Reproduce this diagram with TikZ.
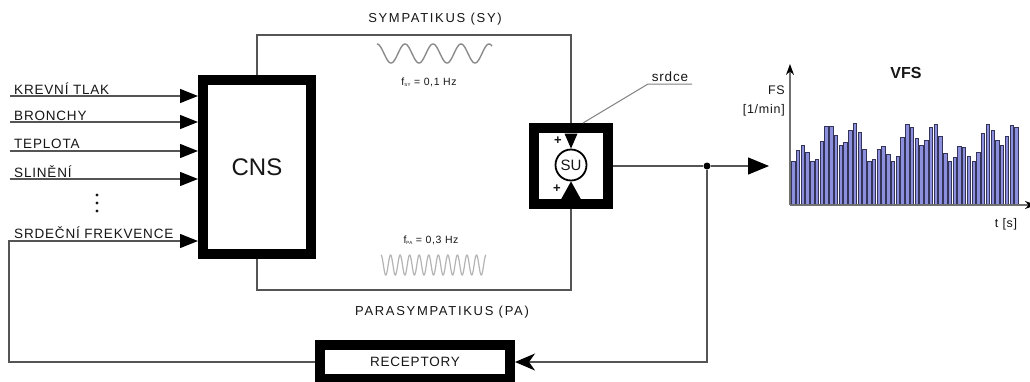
\documentclass[tikz,border=0pt]{standalone}
\usepackage{fontspec}
\setmainfont{Liberation Sans}
\newfontfamily\lblfont[LetterSpace=6]{Liberation Sans}
\newfontfamily\ttlfont[LetterSpace=13]{Liberation Sans}
\usetikzlibrary{arrows.meta}
\definecolor{ln}{HTML}{555555}
\definecolor{txt}{HTML}{161616}
\definecolor{barfill}{HTML}{8C8FDC}
\definecolor{baredge}{HTML}{34345A}
\definecolor{waveA}{HTML}{8A8A8A}
\definecolor{waveB}{HTML}{B4B4B4}
\definecolor{axisc}{HTML}{707070}
\definecolor{leadc}{HTML}{808080}
\begin{document}
\begin{tikzpicture}[x=1pt,y=-1pt,
  thickbox/.style={draw=black,line width=10pt,inner sep=0pt,fill=white},
  wire/.style={draw=ln,line width=1.3pt},
  inarrow/.style={wire,-{Triangle[length=18pt,width=14pt,color=black]}},
  lbl/.style={font=\lblfont\fontsize{13.5}{16}\selectfont,text=txt,inner sep=0pt},
  ttl/.style={font=\ttlfont\fontsize{13}{15}\selectfont,text=txt,inner sep=0pt},
  small/.style={font=\lblfont\fontsize{10.5}{12}\selectfont,text=txt,inner sep=0pt},
  bar/.style={fill=barfill,draw=baredge,line width=0.7pt}]
\useasboundingbox (0,0) rectangle (1030,381);
\fill[white] (0,0) rectangle (1030,381);

% ---------- boxes ----------
\node[thickbox,minimum width=108pt,minimum height=174pt,
      font=\fontsize{24}{28}\selectfont,text=txt] (cns) at (257,167) {CNS};
\node[thickbox,minimum width=74pt,minimum height=76pt] (subox) at (571,166) {};
\node[thickbox,minimum width=190pt,minimum height=34pt,lbl] (recep) at (415,362) {RECEPTORY};

% ---------- SY / PA loop ----------
\coordinate (syR) at (571,35);
\coordinate (paR) at (571,290);
\draw[wire] (cns.north) |- (syR) -- (subox.north);
\draw[wire] (cns.south) |- (paR) -- (subox.south);

% ---------- summation unit ----------
\node[circle,draw=black,line width=1.8pt,minimum size=31pt,inner sep=0pt,fill=white,
      font=\fontsize{15}{17}\selectfont,text=txt] (su) at (571,165) {SU};
\fill[black] (su.north) -- ++(-6.5,-15) -- ++(13,0) -- cycle;
\fill[black] (su.south) -- ++(-10,18) -- ++(20,0) -- cycle;
\node[font=\bfseries\fontsize{13}{14}\selectfont,text=txt,inner sep=0pt] (plus1) at (558,141) {+};
\node[font=\bfseries\fontsize{13}{14}\selectfont,text=txt,inner sep=0pt] (plus2) at (557,189) {+};

% srdce label with leader
\node[lbl,anchor=base] (srdce) at (670,81) {srdce};
\coordinate (lead0) at (583,123);
\coordinate (leadA) at (648,84);
\coordinate (leadB) at (692,84);
\draw[draw=leadc,line width=1pt] (lead0) -- (leadA) -- (leadB);

% ---------- waves ----------
\draw[waveA,line width=1.4pt] plot[domain=377:492,samples=160] (\x,{53.5-9.5*cos(12.857*(\x-377))});
\draw[waveB,line width=1.2pt] plot[domain=381:486,samples=320] (\x,{265-10*cos(37.696*(\x-381))});

\node[ttl] (sy) at (435,19) {SYMPATIKUS (SY)};
\node[ttl] (pa) at (442,312) {PARASYMPATIKUS (PA)};
\node[small] (f1) at (429,82) {f{\fontsize{4.5}{5}\selectfont\raisebox{-1.5pt}{SY}} = 0,1 Hz};
\node[small] (f2) at (431,240) {f{\fontsize{4.5}{5}\selectfont\raisebox{-1.5pt}{PA}} = 0,3 Hz};

% ---------- inputs ----------
\foreach \y/\n in {96/a,122/b,151/c,179/d}{
  \coordinate (in\n) at (10,\y);
  \draw[inarrow] (in\n) -- (cns.west |- in\n);
}
\node[lbl,anchor=base west] (t1) at (14,94) {KREVNÍ TLAK};
\node[lbl,anchor=base west] (t2) at (14,120) {BRONCHY};
\node[lbl,anchor=base west] (t3) at (14,148) {TEPLOTA};
\node[lbl,anchor=base west] (t4) at (14,177) {SLINĚNÍ};
\node[lbl,anchor=base west] (t5) at (14,238) {SRDEČNÍ FREKVENCE};
\foreach \y in {195,203,211} \fill[txt] (97,\y) circle (1.7pt);

% ---------- output and feedback ----------
\node[circle,fill=black,inner sep=0pt,minimum size=7pt] (dot) at (707,166) {};
\coordinate (outtip) at (769,166);
\draw[wire] (subox.east) -- (dot);
\draw[wire,-{Triangle[length=21pt,width=17pt,color=black]}] (dot) -- (outtip);
\draw[wire,-{Stealth[length=20pt,width=17pt,inset=6pt,color=black]}] (dot) |- (recep.east);
\coordinate (fbl) at (9,241);
\draw[inarrow] (recep.west) -| (fbl) -- (cns.west |- fbl);

% ---------- VFS chart ----------
\foreach \h [count=\i] in {44,55,60,52.3,44,45.7,63.3,79,79,69.3,60,62.7,75,81.7,73,55.7,44,45.7,56,59,50.7,43.3,48.3,67.7,81,77.7,66.7,60,65,77.7,81,68.3,51.7,43.3,47.7,58.3,57.7,48.3,43.3,52.3,71.7,81,75,64.3,60,69,79.7,77.7}{
  \filldraw[bar] ({793.3+4.745*(\i-1)-1.7},205) rectangle ++(3.4,-\h);
}
\coordinate (O) at (790,205);
\coordinate (ytip) at (790,64);
\coordinate (xtip) at (1036,205);
\draw[draw=axisc,line width=1.3pt,-{Stealth[length=11pt,width=8pt,color=black]}] (O) -- (ytip);
\draw[draw=axisc,line width=1.3pt,-{Stealth[length=11pt,width=8pt,color=black]}] (O) -- (xtip);
\node[font=\bfseries\fontsize{16}{18}\selectfont,text=txt,inner sep=0pt] (vfs) at (906,73) {VFS};
\node[font=\lblfont\fontsize{12.5}{14}\selectfont,text=txt,inner sep=0pt,anchor=east] (fs) at (785,90) {FS};
\node[font=\lblfont\fontsize{12.5}{14}\selectfont,text=txt,inner sep=0pt,anchor=east] (unit) at (785,110) {[1/min]};
\node[font=\lblfont\fontsize{12.5}{14}\selectfont,text=txt,inner sep=0pt] (ts) at (1006,224) {t [s]};
\end{tikzpicture}
\end{document}
